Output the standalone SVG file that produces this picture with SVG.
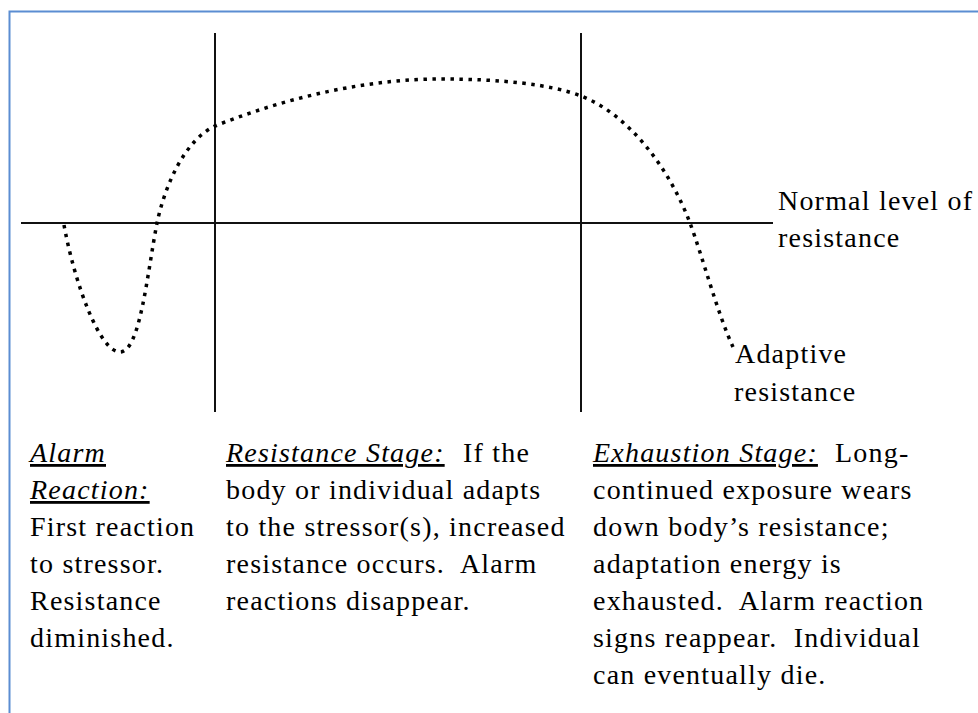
<svg xmlns="http://www.w3.org/2000/svg" width="978" height="713" viewBox="0 0 978 713">
<style>
  text { font-family: "Liberation Serif", "Times New Roman", serif; font-size: 28px; letter-spacing: 1.2px; fill: #000; }
  .h { font-style: italic; text-decoration: underline; }
  .axis { stroke: #111; stroke-width: 2; fill: none; }
  .curve { stroke: #000; stroke-width: 3.5; stroke-dasharray: 3.5 5.5; fill: none; }
</style>
<rect x="9.5" y="11.5" width="1000" height="1000" fill="#fff" stroke="#5b8dd2" stroke-width="2"/>
<g id="axes">
  <line class="axis" x1="21" y1="223" x2="773" y2="223"/>
  <line class="axis" x1="215" y1="33" x2="215" y2="412"/>
  <line class="axis" x1="581" y1="33" x2="581" y2="412"/>
</g>
<g id="curve">
  <path class="curve" d="M64,225 C75,285 100,352 120,352 C140,352 147,275 157,223 C165,185 185,140 215,126 C290,96 370,79 440,79 C500,79 550,84 581,96 C630,115 670,170 690,223 C702,255 718,315 733,347"/>
</g>
<g id="label-normal">
  <text x="778" y="210">Normal level of</text>
  <text x="778" y="247">resistance</text>
</g>
<g id="label-adaptive">
  <text x="735" y="363">Adaptive</text>
  <text x="734" y="401">resistance</text>
</g>
<g id="alarm">
  <text x="30" y="462" class="h">Alarm</text>
  <text x="30" y="499" class="h">Reaction:</text>
  <text x="30" y="536">First reaction</text>
  <text x="30" y="573">to stressor.</text>
  <text x="30" y="610">Resistance</text>
  <text x="30" y="647">diminished.</text>
</g>
<g id="resistance">
  <text x="226" y="462"><tspan class="h">Resistance Stage:</tspan><tspan x="463">If the</tspan></text>
  <text x="226" y="499">body or individual adapts</text>
  <text x="226" y="536">to the stressor(s), increased</text>
  <text x="226" y="573" xml:space="preserve">resistance occurs.  Alarm</text>
  <text x="226" y="610">reactions disappear.</text>
</g>
<g id="exhaustion">
  <text x="593" y="462"><tspan class="h">Exhaustion Stage:</tspan><tspan x="835">Long-</tspan></text>
  <text x="593" y="499">continued exposure wears</text>
  <text x="593" y="536">down body’s resistance;</text>
  <text x="593" y="573">adaptation energy is</text>
  <text x="593" y="610" xml:space="preserve">exhausted.  Alarm reaction</text>
  <text x="593" y="647" xml:space="preserve">signs reappear.  Individual</text>
  <text x="593" y="684">can eventually die.</text>
</g>
</svg>
